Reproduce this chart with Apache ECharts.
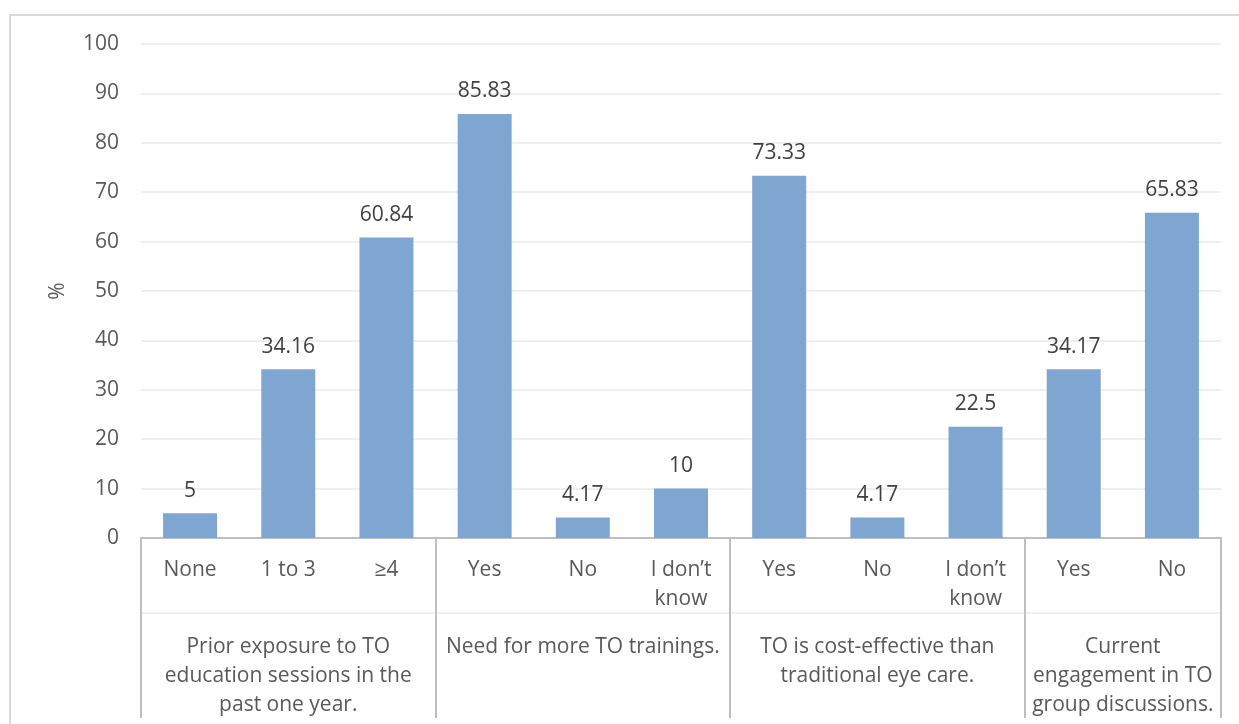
<!DOCTYPE html>
<html>
<head>
<meta charset="utf-8">
<script src="https://cdn.jsdelivr.net/npm/echarts@6/dist/echarts.min.js"></script>
<style>
  html, body { margin: 0; padding: 0; background: #fff; }
  #main { width: 1239px; height: 724px; }
</style>
</head>
<body>
<div id="main"></div>
<script>
var categories = ['None', '1 to 3', '≥4', 'Yes', 'No', 'I don’t\nknow', 'Yes', 'No', 'I don’t\nknow', 'Yes', 'No'];
var values = [5, 34.16, 60.84, 85.83, 4.17, 10, 73.33, 4.17, 22.5, 34.17, 65.83];
var groupNames = [
    'Prior exposure to TO\neducation sessions in the\npast one year.',
    'Need for more TO trainings.',
    'TO is cost-effective than\ntraditional eye care.',
    'Current\nengagement in TO\ngroup discussions.'
];
var groupSizes = [3, 3, 3, 2];
var yTicks = [0, 100, 10];

// half-slot axis for the group row: boundaries and centres fall on slots
var halfSlots = [];
var boundarySlots = [0];
var pos = 0;
for (var i = 0; i < categories.length * 2 + 1; i++) halfSlots.push('');
groupSizes.forEach(function (n, g) {
    halfSlots[pos + n] = groupNames[g];
    pos += n * 2;
    boundarySlots.push(pos);
});

var font = '"Open Sans", "Noto Sans", sans-serif';
var textColor = '#595959';
var sepColor = '#bfbfbf';
var fs = 21;

var chart = echarts.init(document.getElementById('main'));

var option = {
    animation: false,
    graphic: [{
        type: 'rect',
        shape: { x: 10, y: 15, width: 1260, height: 740 },
        style: { fill: 'none', stroke: '#d9d9d9', lineWidth: 2 },
        silent: true
    }],
    grid: {
        left: 141,
        right: 18,
        top: 44,
        bottom: 186
    },
    xAxis: [
        {
            type: 'category',
            position: 'bottom',
            data: categories,
            axisLine: { lineStyle: { color: sepColor, width: 2 } },
            axisTick: { show: false },
            axisLabel: {
                interval: 0,
                margin: 18,
                fontFamily: font,
                fontSize: fs,
                lineHeight: 29,
                color: textColor
            }
        },
        {
            type: 'category',
            position: 'bottom',
            offset: 0,
            boundaryGap: false,
            data: halfSlots,
            axisLine: { show: false },
            axisTick: {
                length: 180,
                interval: function (idx) { return boundarySlots.indexOf(idx) >= 0; },
                lineStyle: { color: sepColor, width: 2 }
            },
            axisLabel: {
                interval: 0,
                margin: 95,
                fontFamily: font,
                fontSize: fs,
                lineHeight: 29,
                color: textColor
            }
        },
        {
            type: 'category',
            position: 'bottom',
            offset: 75,
            data: categories,
            axisLine: { lineStyle: { color: '#f0f0f0', width: 2 } },
            axisTick: { show: false },
            axisLabel: { show: false }
        }
    ],
    yAxis: {
        type: 'value',
        min: yTicks[0],
        max: yTicks[1],
        interval: yTicks[2],
        name: '%',
        nameLocation: 'middle',
        nameRotate: 90,
        nameGap: 72,
        nameTextStyle: { fontFamily: font, fontSize: fs, color: textColor },
        axisLine: { show: false },
        axisTick: { show: false },
        axisLabel: {
            margin: 22,
            fontFamily: font,
            fontSize: fs,
            color: textColor
        },
        splitLine: { lineStyle: { color: '#efefef', width: 2 } }
    },
    series: [{
        type: 'bar',
        xAxisIndex: 0,
        data: values,
        barWidth: '55%',
        itemStyle: { color: '#7fa6d0' },
        label: {
            show: true,
            position: 'top',
            distance: 12,
            fontFamily: font,
            fontSize: fs,
            color: '#404040'
        }
    }]
};

chart.setOption(option);
</script>
</body>
</html>
